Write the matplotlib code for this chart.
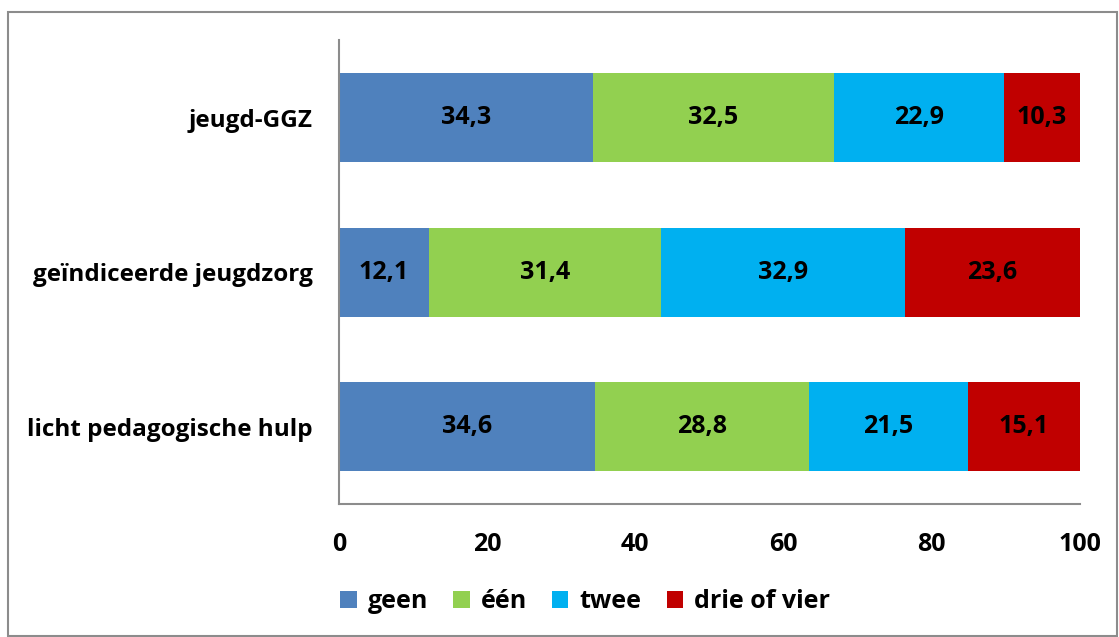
import matplotlib.pyplot as plt
from matplotlib.patches import Rectangle

plt.rcParams['font.family'] = ['Open Sans', 'DejaVu Sans']
plt.rcParams['font.weight'] = 'bold'

categories = ["licht pedagogische hulp", "geïndiceerde jeugdzorg", "jeugd-GGZ"]
series = ["geen", "één", "twee", "drie of vier"]
values = {
    "geen": [34.6, 12.1, 34.3],
    "één": [28.8, 31.4, 32.5],
    "twee": [21.5, 32.9, 22.9],
    "drie of vier": [15.1, 23.6, 10.3],
}
colors = ["#4F81BD", "#92D050", "#00B0F0", "#C00000"]

fig = plt.figure(figsize=(11.19, 6.37), dpi=100)
ax = fig.add_axes([0.303, 0.2088, 0.662, 0.728])

left = [0.0] * len(categories)
ypos = list(range(len(categories)))
for i, s in enumerate(series):
    vals = values[s]
    ax.barh(ypos, vals, left=left, height=0.575, color=colors[i], label=s)
    for y, l, v in zip(ypos, left, vals):
        ax.text(l + v / 2, y, f"{v:.1f}".replace(".", ","), ha="center", va="center",
                fontsize=18, fontweight="bold", color="black")
    left = [a + b for a, b in zip(left, vals)]

ax.set_xlim(0, 100)
ax.set_ylim(-0.5, 2.5)
ax.set_xticks([0, 20, 40, 60, 80, 100])
ax.set_yticks(ypos)
ax.set_yticklabels(categories)
ax.tick_params(axis="both", length=0)
ax.tick_params(axis="x", pad=20, labelsize=18)
ax.tick_params(axis="y", pad=19, labelsize=17.5)
for t in ax.get_xticklabels() + ax.get_yticklabels():
    t.set_fontweight("bold")
for side in ["top", "right"]:
    ax.spines[side].set_visible(False)
for side in ["left", "bottom"]:
    ax.spines[side].set_color("#8C8C8C")
    ax.spines[side].set_linewidth(1.5)

leg = fig.legend(loc="center", bbox_to_anchor=(0.523, 0.055), ncol=4, frameon=False,
                 fontsize=18, handlelength=0.65, handleheight=0.65, handletextpad=0.45,
                 columnspacing=1.0)

fig.patches.append(Rectangle((8 / 1119, 1 / 637), 1109 / 1119, 624 / 637,
                             transform=fig.transFigure, fill=False,
                             edgecolor="#8C8C8C", linewidth=1.5))

fig.savefig("out.png", dpi=100)
